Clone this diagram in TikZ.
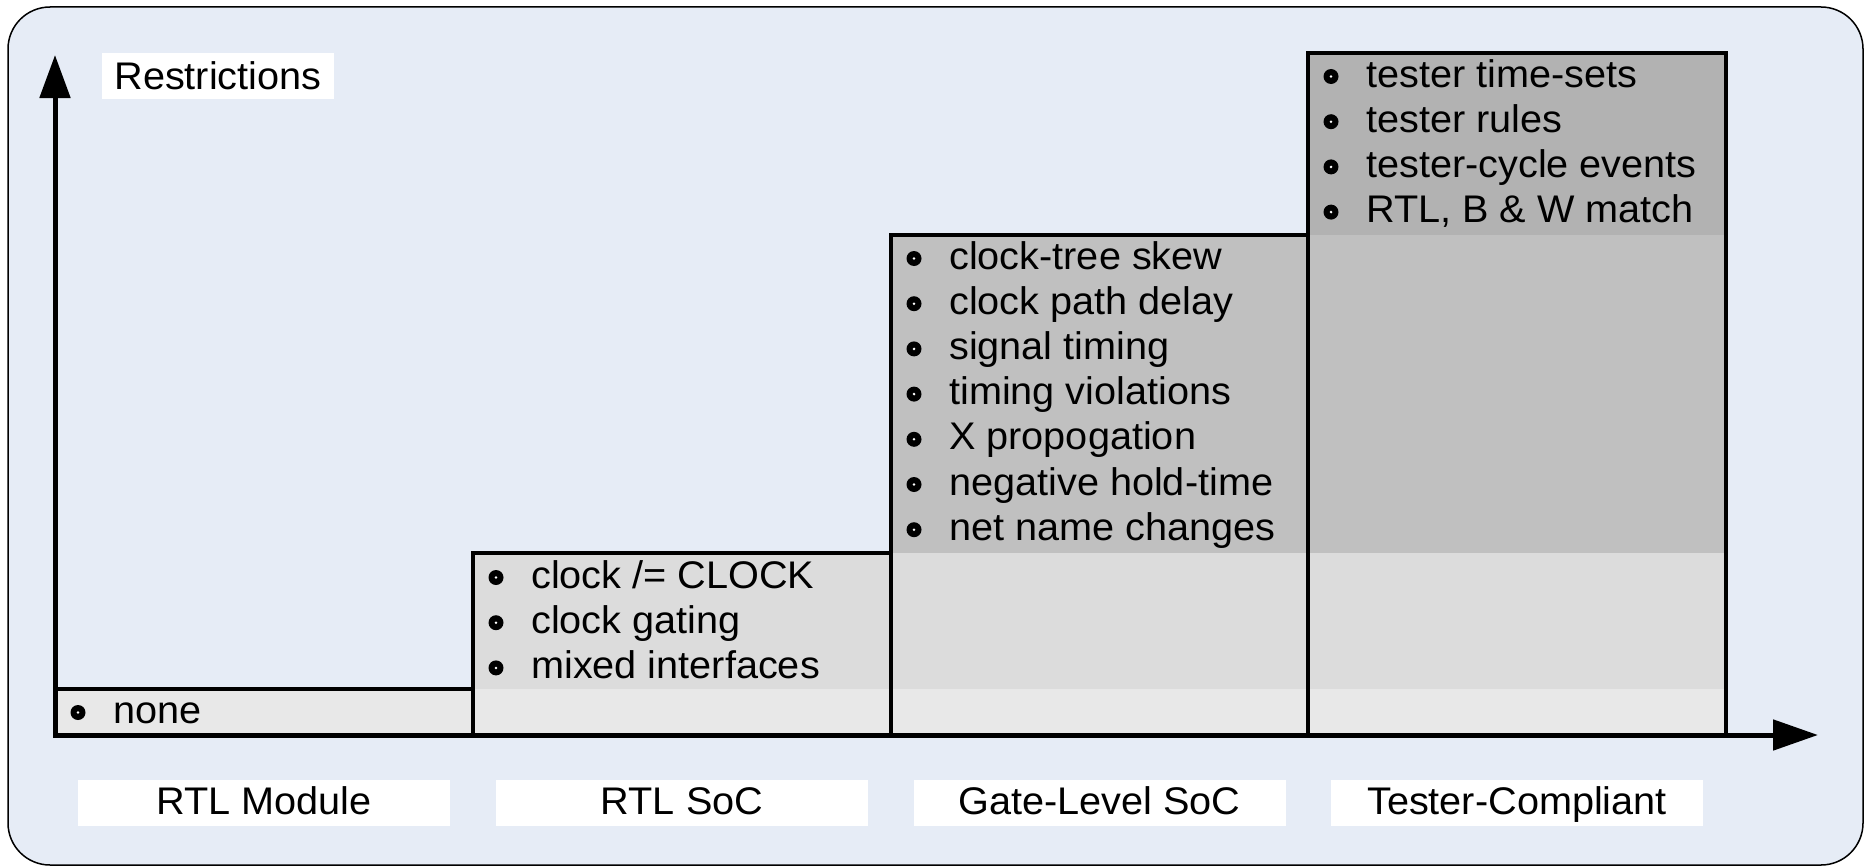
\documentclass[tikz,border=0pt]{standalone}
\usepackage{fontspec}
\setmainfont{Liberation Sans}[FakeStretch=1.03]
\usetikzlibrary{arrows.meta}

\definecolor{panel}{RGB}{230,236,246}
\definecolor{bandA}{RGB}{232,232,232}
\definecolor{bandB}{RGB}{220,220,220}
\definecolor{bandC}{RGB}{192,192,192}
\definecolor{bandD}{RGB}{178,178,178}

\begin{document}
\begin{tikzpicture}[x=1pt,y=-1pt,
  txt/.style={font=\fontsize{38.5}{45}\selectfont, inner sep=0pt, anchor=base west},
  tag/.style={fill=white, font=\fontsize{38.5}{45}\selectfont, inner sep=0pt,
              minimum width=372pt, minimum height=46pt, text height=27pt, text depth=4pt},
  stepbox/.style={draw=black, line width=3.2pt},
  axis/.style={line width=5pt, line join=miter,
               {Triangle[length=43pt,width=30pt]}-{Triangle[length=45pt,width=30pt]}},
  dotmark/.style={fill=black}
]
\useasboundingbox (0,0) rectangle (1868,867);
\fill[white] (0,0) rectangle (1868,867);

% rounded panel
\draw[line width=1.5pt, fill=panel, rounded corners=42pt] (8,7) rectangle (1863,865);

% grey bands of the staircase
\fill[bandA] (55,689) rectangle (1726,735);
\fill[bandB] (473,553) rectangle (1726,689);
\fill[bandC] (891,235) rectangle (1726,553);
\fill[bandD] (1308,53) rectangle (1726,235);

% step outlines
\draw[stepbox] (55,689) rectangle (473,735);
\draw[stepbox] (473,553) rectangle (891,735);
\draw[stepbox] (891,235) rectangle (1308,735);
\draw[stepbox] (1308,53) rectangle (1726,735);

% axes
\coordinate (origin) at (55,735);
\coordinate (ytip) at (55,55);
\coordinate (xtip) at (1818,735);
\draw[axis] (ytip) -- (origin) -- (xtip);

% axis title
\node[fill=white, font=\fontsize{38.5}{45}\selectfont, inner sep=0pt,
      minimum width=232pt, minimum height=46pt, text height=27pt, text depth=0pt]
  (ylabel) at (218,76) {Restrictions};

% bullet lists: column left edge, first baseline, items
\foreach \t [count=\i] in {none} {
  \node[txt] (m\i) at (113,{723+45.2*(\i-1)}) {\t};
  \fill[dotmark] (78,{723+45.2*(\i-1)-10.5}) circle (7.5);
  \fill[white] (78,{723+45.2*(\i-1)-10.5}) circle (1.4);
}
\foreach \t [count=\i] in {clock /= CLOCK, clock gating, mixed interfaces} {
  \node[txt] (s\i) at (531,{588+45.2*(\i-1)}) {\t};
  \fill[dotmark] (496,{588+45.2*(\i-1)-10.5}) circle (7.5);
  \fill[white] (496,{588+45.2*(\i-1)-10.5}) circle (1.4);
}
\foreach \t [count=\i] in {clock-tree skew, clock path delay, signal timing,
    timing violations, X propogation, negative hold-time, net name changes} {
  \node[txt] (g\i) at (949,{269+45.2*(\i-1)}) {\t};
  \fill[dotmark] (914,{269+45.2*(\i-1)-10.5}) circle (7.5);
  \fill[white] (914,{269+45.2*(\i-1)-10.5}) circle (1.4);
}
\foreach \t [count=\i] in {tester time-sets, tester rules, tester-cycle events,
    {RTL, B \& W match}} {
  \node[txt] (t\i) at (1366,{87+45.2*(\i-1)}) {\t};
  \fill[dotmark] (1331,{87+45.2*(\i-1)-10.5}) circle (7.5);
  \fill[white] (1331,{87+45.2*(\i-1)-10.5}) circle (1.4);
}

% stage names under the axis
\node[tag] (stage1) at (264,803) {RTL Module};
\node[tag] (stage2) at (682,803) {RTL SoC};
\node[tag] (stage3) at (1099.5,803) {Gate-Level SoC};
\node[tag] (stage4) at (1517,803) {Tester-Compliant};
\end{tikzpicture}
\end{document}
